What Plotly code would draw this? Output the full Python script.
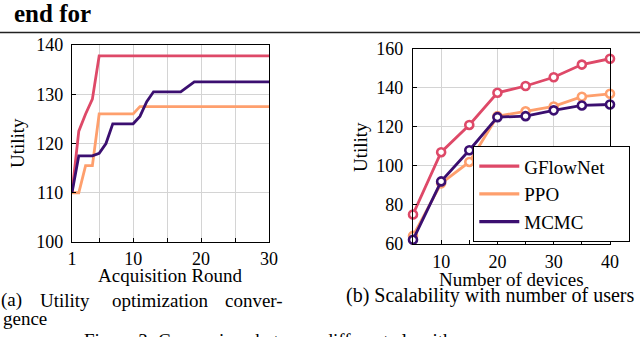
import plotly.graph_objects as go

# (a) convergence over acquisition rounds
rounds = list(range(1, 31))
conv_gflownet = [110, 122.5, 126, 129, 137.8, 137.8, 137.8, 137.8, 137.8, 137.8,
                 137.8, 137.8, 137.8, 137.8, 137.8, 137.8, 137.8, 137.8, 137.8, 137.8,
                 137.8, 137.8, 137.8, 137.8, 137.8, 137.8, 137.8, 137.8, 137.8, 137.8]
conv_ppo = [110, 110, 115.5, 115.5, 126, 126, 126, 126, 126, 126,
            127.5, 127.5, 127.5, 127.5, 127.5, 127.5, 127.5, 127.5, 127.5, 127.5,
            127.5, 127.5, 127.5, 127.5, 127.5, 127.5, 127.5, 127.5, 127.5, 127.5]
conv_mcmc = [110, 117.5, 117.5, 117.5, 118, 120, 124, 124, 124, 124,
             125.5, 128.5, 130.5, 130.5, 130.5, 130.5, 130.5, 131.5, 132.5, 132.5,
             132.5, 132.5, 132.5, 132.5, 132.5, 132.5, 132.5, 132.5, 132.5, 132.5]

# (b) scalability with number of devices
devices = [5, 10, 15, 20, 25, 30, 35, 40]
scal_gflownet = [75, 107, 121, 137.5, 141, 145.5, 152, 155]
scal_ppo = [64, 91, 102, 125.5, 128, 130.5, 135.5, 137]
scal_mcmc = [62, 92, 108, 125, 125.5, 128.5, 131, 131.5]

names = ["GFlowNet", "PPO", "MCMC"]
colors = ["#de4968", "#fe9f6d", "#3b0f70"]

W, H = 640, 337
serif = "Liberation Serif"


def px(x):
    return x / W


def py(y):
    return 1 - y / H


fig = go.Figure()

for name, ys, c in zip(names, [conv_gflownet, conv_ppo, conv_mcmc], colors):
    fig.add_trace(go.Scatter(x=rounds, y=ys, mode="lines", name=name,
                             line=dict(color=c, width=2.8), showlegend=False,
                             xaxis="x", yaxis="y"))

for name, ys, c in zip(names, [scal_gflownet, scal_ppo, scal_mcmc], colors):
    fig.add_trace(go.Scatter(x=devices, y=ys, mode="lines+markers", name=name,
                             line=dict(color=c, width=2.8),
                             marker=dict(symbol="circle", size=8, color="white",
                                         line=dict(color=c, width=2.6)),
                             cliponaxis=False, showlegend=False,
                             xaxis="x2", yaxis="y2"))

# legend entries (line only, as in the reference)
pad = "\u00a0" * 4
for name, c in zip(names, colors):
    fig.add_trace(go.Scatter(x=[None], y=[None], mode="lines", name=name + pad,
                             legendgroup=name, line=dict(color=c, width=3.2),
                             xaxis="x2", yaxis="y2"))

axis_common = dict(showline=True, linecolor="black", linewidth=1.2, mirror=True,
                   ticks="inside", ticklen=4, tickcolor="black",
                   gridcolor="#d4d4d4", gridwidth=1.3, zeroline=False,
                   automargin=False,
                   tickfont=dict(family=serif, size=18, color="black"))
title_font = dict(family=serif, size=19, color="black")

fig.update_layout(
    width=W, height=H,
    margin=dict(l=0, r=0, t=0, b=0),
    paper_bgcolor="white", plot_bgcolor="white",
    xaxis=dict(axis_common, domain=[px(72), px(269)], range=[1, 30],
               tickmode="array", tickvals=[1, 10, 20, 30], showgrid=True,
               minor=dict(tickmode="linear", tick0=0, dtick=5, showgrid=True,
                          gridcolor="#d4d4d4", gridwidth=1.3,
                          ticks="inside", ticklen=4, tickcolor="black"),
               ticklabelstandoff=0, anchor="y"),
    yaxis=dict(axis_common, domain=[py(242), py(45)], range=[100, 140],
               dtick=10, ticklabelstandoff=4, anchor="x"),
    xaxis2=dict(axis_common, domain=[px(413), px(610)], range=[5, 40],
                dtick=10, tick0=0,
                minor=dict(tickmode="linear", tick0=0, dtick=5, showgrid=False,
                           ticks="inside", ticklen=4, tickcolor="black"),
                ticklabelstandoff=2, anchor="y2"),
    yaxis2=dict(axis_common, domain=[py(243.7), py(49)], range=[60, 160],
                dtick=20, ticklabelstandoff=5, anchor="x2"),
    legend=dict(x=px(473), y=py(146), xanchor="left", yanchor="top",
                bgcolor="white", bordercolor="black", borderwidth=1.3,
                font=dict(family=serif, size=19, color="black"),
                traceorder="grouped", tracegroupgap=0, itemwidth=40),
    font=dict(family=serif, color="black"),
)

ann = []
# axis titles
ann.append(dict(text="Acquisition Round", x=px(170), y=py(275), xanchor="center",
                yanchor="middle", font=title_font))
ann.append(dict(text="Utility", x=px(17), y=py(143), xanchor="center",
                yanchor="middle", textangle=-90, font=title_font))
ann.append(dict(text="Number of devices", x=px(511), y=py(279), xanchor="center",
                yanchor="middle", font=title_font))
ann.append(dict(text="Utility", x=px(360), y=py(147), xanchor="center",
                yanchor="middle", textangle=-90, font=title_font))
# surrounding page text
ann.append(dict(text="<b>end for</b>", x=px(12), y=py(14), xanchor="left",
                yanchor="middle", font=dict(family=serif, size=25, color="black")))
for word, cx in [("(a)", 11), ("Utility", 65), ("optimization", 160), ("conver-", 254)]:
    ann.append(dict(text=word, x=px(cx), y=py(300), xanchor="center", yanchor="middle",
                    font=dict(family=serif, size=19, color="black")))
ann.append(dict(text="gence", x=px(1), y=py(318), xanchor="left", yanchor="middle",
                font=dict(family=serif, size=19, color="black")))
ann.append(dict(text="(b) Scalability with number of users", x=px(490), y=py(295),
                xanchor="center", yanchor="middle",
                font=dict(family=serif, size=20, color="black")))
ann.append(dict(text="Figure 3: Comparison between different algorithms", x=px(82),
                y=py(328), xanchor="left", yanchor="top",
                font=dict(family=serif, size=19, color="black")))
for a in ann:
    a.update(xref="paper", yref="paper", showarrow=False)
fig.update_layout(annotations=ann)

fig.add_shape(type="line", xref="paper", yref="paper", x0=0, x1=1,
              y0=py(32.5), y1=py(32.5), line=dict(color="#222222", width=1.6))

# the page body has a default 8px margin; drop it so the chart sits at the corner
fig.write_html("out.html", config={"displayModeBar": False},
               post_script="document.body.style.margin='0px';")
